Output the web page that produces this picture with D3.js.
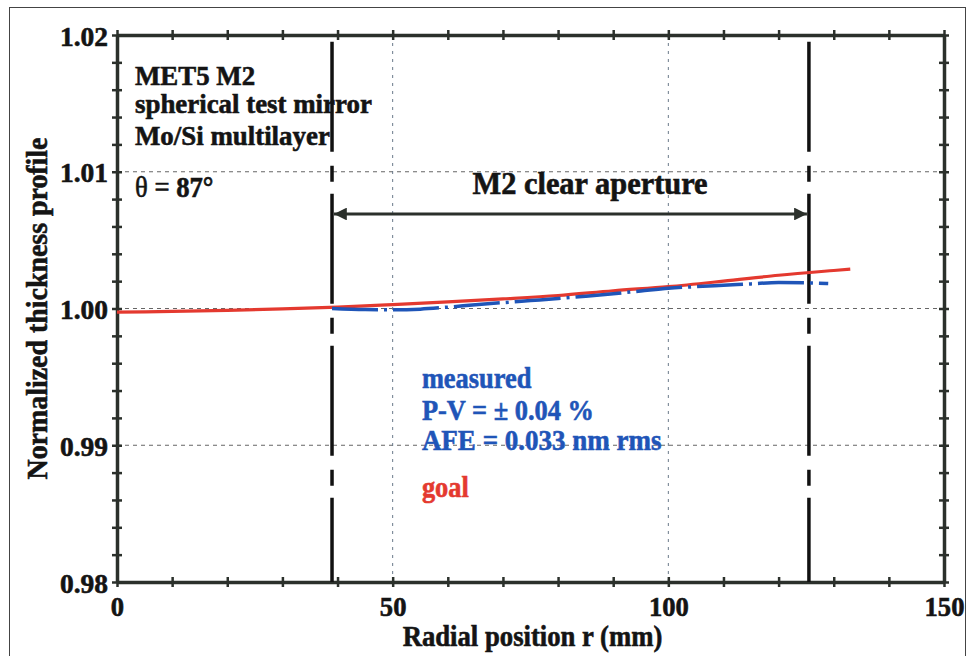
<!DOCTYPE html>
<html><head><meta charset="utf-8">
<script src="https://cdn.jsdelivr.net/npm/d3@7"></script>
<style>
html,body{margin:0;padding:0;background:#fff;}
svg{display:block;}
text{font-family:"Liberation Serif","Times New Roman",serif;font-weight:bold;}
</style></head>
<body>
<svg id="chart" width="968" height="656"></svg>
<script>
// ---- data ----
const goalR = [0,10,20,30,40,50,60,70,80,90,100,110,120,130,133];
const goalV = [0.99973,0.99979,0.99987,0.99997,1.0001,1.00028,1.00048,1.0007,1.00095,1.0013,1.0016,1.002,1.00243,1.00278,1.00288];
const measR = [39,45,50,55,60,65,70,75,80,85,90,95,100,105,110,115,120,125,129];
const measV = [1.0000,0.99992,0.9999,0.99995,1.0001,1.00027,1.00043,1.00058,1.00073,1.0009,1.00108,1.00128,1.00148,1.0016,1.0017,1.0018,1.0019,1.00188,1.00183];
const apertureR = [39,125.5];
const xLabelTicks = [0,50,100,150];
const xMinorTicks = [0,10,20,30,40,50,60,70,80,90,100,110,120,130,140,150];
const yLabelTicks = [0.98,0.99,1.00,1.01,1.02];
const yLabelText = ["0.98","0.99","1.00","1.01","1.02"];
const yMinorTicks = [0.98,0.982,0.984,0.986,0.988,0.99,0.992,0.994,0.996,0.998,1.0,1.002,1.004,1.006,1.008,1.01,1.012,1.014,1.016,1.018,1.02];
const xGrid = [50,100];
const yGrid = [0.99,1.00,1.01];
const infoLines = ["MET5 M2","spherical test mirror","Mo/Si multilayer"];
const legendLines = ["measured","P-V = \u00b1 0.04 %","AFE = 0.033 nm rms"];

// ---- layout ----
const svg = d3.select("#chart");
const x = d3.scaleLinear().domain([0,150]).range([117,944]);
const y = d3.scaleLinear().domain([0.98,1.02]).range([582,35]);
const frameColor = "#2b302b";
const ink = "#141414";
const red = "#e4392f", blue = "#1f55b8";

function condense(sel,k){
  sel.each(function(){
    const w = this.getComputedTextLength();
    d3.select(this).attr("textLength", w*k).attr("lengthAdjust","spacingAndGlyphs");
  });
}
function heavy(sel,col){ sel.attr("stroke",col).attr("stroke-width",0.6); }

svg.append("rect").attr("x",9.5).attr("y",7.5).attr("width",956).attr("height",720)
  .attr("fill","none").attr("stroke","#444").attr("stroke-width",1);

// grid
svg.append("g").selectAll("line").data(yGrid).join("line")
  .attr("x1",x(0)).attr("x2",x(150)).attr("y1",d=>y(d)).attr("y2",d=>y(d))
  .attr("stroke","#666").attr("stroke-width",1).attr("stroke-dasharray","4,4");
svg.append("g").selectAll("line").data(xGrid).join("line")
  .attr("x1",d=>x(d)).attr("x2",d=>x(d)).attr("y1",y(1.02)).attr("y2",y(0.98))
  .attr("stroke","#6a7a8a").attr("stroke-width",1).attr("stroke-dasharray","3,5");

// axes (frame with ticks crossing)
function styleAxis(g, dir){
  g.select(".domain").attr("stroke",frameColor).attr("stroke-width",3.5);
  g.selectAll(".tick line").attr("stroke",frameColor).attr("stroke-width",2.5);
  if(dir==="h") g.selectAll(".tick line").attr("y1",-5).attr("y2",5);
  else g.selectAll(".tick line").attr("x1",-5).attr("x2",5);
}
svg.append("g").attr("transform",`translate(0,${y(0.98)})`)
  .call(d3.axisBottom(x).tickValues(xMinorTicks).tickFormat("").tickSizeOuter(0))
  .call(g=>styleAxis(g,"h"));
svg.append("g").attr("transform",`translate(0,${y(1.02)})`)
  .call(d3.axisTop(x).tickValues(xMinorTicks).tickFormat("").tickSizeOuter(0))
  .call(g=>styleAxis(g,"h"));
svg.append("g").attr("transform",`translate(${x(0)},0)`)
  .call(d3.axisLeft(y).tickValues(yMinorTicks).tickFormat("").tickSizeOuter(0))
  .call(g=>styleAxis(g,"v"));
svg.append("g").attr("transform",`translate(${x(150)},0)`)
  .call(d3.axisRight(y).tickValues(yMinorTicks).tickFormat("").tickSizeOuter(0))
  .call(g=>styleAxis(g,"v"));

// tick labels
const xl = svg.append("g").attr("transform",`translate(0,${y(0.98)})`)
  .call(d3.axisBottom(x).tickValues(xLabelTicks).tickFormat(d3.format("d")).tickSize(0));
xl.select(".domain").remove();
xl.selectAll("text").attr("dy",null).attr("y",34).attr("fill",ink)
  .style("font-size","28px").style("font-family",'"Liberation Serif",serif').style("font-weight","bold")
  .call(condense,0.95).call(heavy,ink);
const yl = svg.append("g").attr("transform",`translate(${x(0)},0)`)
  .call(d3.axisLeft(y).tickValues(yLabelTicks).tickFormat((d,i)=>yLabelText[i]).tickSize(0));
yl.select(".domain").remove();
yl.selectAll("text").attr("dy",null).attr("y",10).attr("x",-9).attr("fill",ink)
  .style("font-size","28px").style("font-family",'"Liberation Serif",serif').style("font-weight","bold")
  .call(condense,0.98).call(heavy,ink);

// axis titles
svg.append("text").attr("x",(x(0)+x(150))/2+2).attr("y",646).attr("text-anchor","middle")
  .attr("fill",ink).style("font-size","29px").text("Radial position r (mm)").call(condense,0.92).call(heavy,ink);
svg.append("text").attr("transform",`translate(47,${(y(0.98)+y(1.02))/2}) rotate(-90)`)
  .attr("text-anchor","middle").attr("fill",ink).style("font-size","30px")
  .text("Normalized thickness profile").call(condense,0.93).call(heavy,ink);

// aperture lines
svg.append("g").selectAll("line").data(apertureR).join("line")
  .attr("x1",d=>x(d)).attr("x2",d=>x(d)).attr("y1",y(1.0195)).attr("y2",y(0.98))
  .attr("stroke","#111").attr("stroke-width",3.5).attr("stroke-dasharray","110,14,16,12");

// arrow
const defs = svg.append("defs");
defs.append("marker").attr("id","ah").attr("viewBox","0 0 10 10").attr("refX",10).attr("refY",5)
  .attr("markerWidth",5).attr("markerHeight",4).attr("markerUnits","strokeWidth").attr("orient","auto-start-reverse")
  .append("path").attr("d","M0,0 L10,5 L0,10 z").attr("fill",frameColor);
svg.append("line").attr("x1",x(apertureR[0])+2).attr("x2",x(apertureR[1])-2)
  .attr("y1",y(1.00691)).attr("y2",y(1.00691))
  .attr("stroke",frameColor).attr("stroke-width",3.2)
  .attr("marker-start","url(#ah)").attr("marker-end","url(#ah)");
svg.append("text").attr("x",x(85.8)).attr("y",y(1.00838)).attr("text-anchor","middle")
  .attr("fill",ink).style("font-size","31px").text("M2 clear aperture").call(condense,0.98).call(heavy,ink);

// curves
const line = d3.line().x(d=>x(d[0])).y(d=>y(d[1])).curve(d3.curveMonotoneX);
svg.append("path").datum(goalR.map((r,i)=>[r,goalV[i]])).attr("d",line)
  .attr("fill","none").attr("stroke",red).attr("stroke-width",3.2);
svg.append("path").datum(measR.map((r,i)=>[r,measV[i]])).attr("d",line)
  .attr("fill","none").attr("stroke",blue).attr("stroke-width",3.5).attr("stroke-dasharray","46,6,3,6");

// info text
const infoY = [1.01634,1.0143,1.01196];
svg.append("g").selectAll("text").data(infoLines).join("text")
  .attr("x",x(3.26)).attr("y",(d,i)=>y(infoY[i])).attr("fill",ink).style("font-size","28px")
  .text(d=>d).call(condense,0.96).call(heavy,ink);
const th = svg.append("text").attr("x",x(3.26)).attr("y",y(1.00816)).attr("fill",ink).style("font-size","29px");
th.append("tspan").style("font-weight","normal").text("\u03b8 = ");
th.append("tspan").text("87\u00b0");
th.call(condense,0.92).call(heavy,ink);

// legend text
const legY = [0.9942,0.99186,0.98967];
const legK = [0.88,0.88,0.9];
svg.append("g").selectAll("text").data(legendLines).join("text")
  .attr("x",x(55.3)).attr("y",(d,i)=>y(legY[i])).attr("fill",blue).style("font-size","30px")
  .text(d=>d).each(function(d,i){
    const w=this.getComputedTextLength();
    d3.select(this).attr("textLength",w*legK[i]).attr("lengthAdjust","spacingAndGlyphs");
  }).call(heavy,blue);
svg.append("text").attr("x",x(55.3)).attr("y",y(0.98622)).attr("fill",red).style("font-size","30px")
  .text("goal").call(condense,0.88).call(heavy,red);
</script>
</body></html>
